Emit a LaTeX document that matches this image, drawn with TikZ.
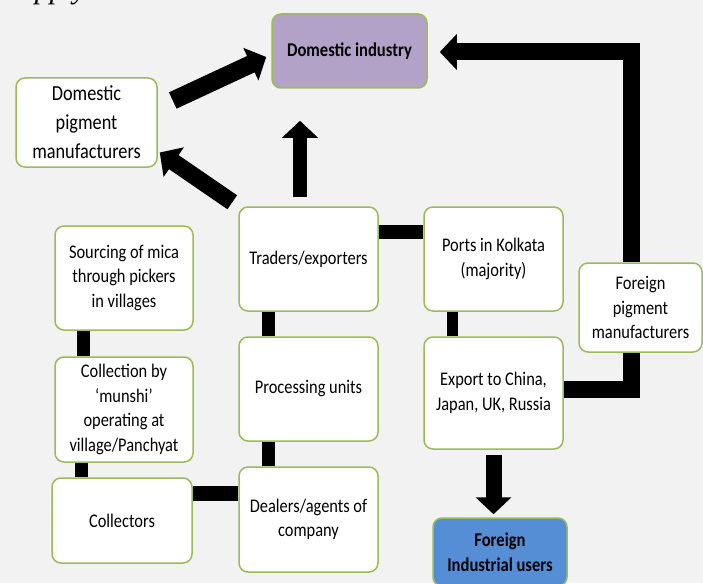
\documentclass[tikz,border=0pt]{standalone}
\usepackage{fontspec}
\setmainfont{Carlito}
\newfontfamily\boxfont[FakeStretch=0.85]{Carlito}
\newfontfamily\titlefont{Liberation Serif}
\usetikzlibrary{arrows.meta}
\definecolor{boxgreen}{RGB}{155,187,89}
\definecolor{indpurple}{RGB}{179,162,199}
\definecolor{userblue}{RGB}{85,142,213}
\tikzset{
  box/.style={draw=boxgreen, line width=1.5pt, rounded corners=9pt, fill=white,
    align=center, inner sep=2pt, font=\boxfont\fontsize{19.3}{24.5}\selectfont},
  link/.style={line width=13pt},
  flow/.style={line width=16pt, -{Triangle[width=35pt,length=17pt]}},
}
\begin{document}
\begin{tikzpicture}[x=1pt,y=-1pt]
        \useasboundingbox (0,0) rectangle (703,583);
        \fill[black!5] (0,0) rectangle (703,583);
        \node[anchor=base west,inner sep=0,font=\titlefont\itshape\fontsize{30}{36}\selectfont] (title) at (8,-1) {supply chain};

        % boxes
        \node[box,fill=indpurple,minimum width=155pt,minimum height=74pt,font=\boxfont\bfseries\fontsize{19.5}{24.5}\selectfont] (dind) at (349.5,51) {Domestic industry};
        \node[box,minimum width=141pt,minimum height=89pt,font=\boxfont\fontsize{21.5}{29}\selectfont] (dpig) at (86.5,122.5) {Domestic\\pigment\\manufacturers};
        \node[box,minimum width=138pt,minimum height=104pt] (sourcing) at (124,278) {Sourcing of mica\\through pickers\\in villages};
        \node[box,minimum width=138pt,minimum height=105pt] (collection) at (124,409.5) {Collection by\\‘munshi’\\operating at\\village/Panchyat};
        \node[box,minimum width=140pt,minimum height=85pt] (collectors) at (122,520.5) {Collectors};
        \node[box,minimum width=139pt,minimum height=104pt] (traders) at (308.5,259) {Traders/exporters};
        \node[box,minimum width=139pt,minimum height=104pt] (processing) at (308.5,389) {Processing units};
        \node[box,minimum width=139pt,minimum height=105pt] (dealers) at (308.5,519.5) {Dealers/agents of\\company};
        \node[box,minimum width=139pt,minimum height=104pt] (ports) at (493.5,259) {Ports in Kolkata\\(majority)};
        \node[box,minimum width=139pt,minimum height=112pt] (export) at (493.5,393) {Export to China,\\Japan, UK, Russia};
        \node[box,minimum width=123pt,minimum height=89pt] (fpig) at (640.5,307.5) {Foreign\\pigment\\manufacturers};
        \node[box,fill=userblue,minimum width=134pt,minimum height=68pt,font=\boxfont\bfseries\fontsize{19.5}{24.5}\selectfont] (fusers) at (500,552) {Foreign\\Industrial users};

        % links
        \draw[link] ([xshift=-41pt]sourcing.south) -- ([xshift=-41pt]collection.north);
        \draw[link] ([xshift=-43pt]collection.south) -- ([xshift=-41pt]collectors.north);
        \draw[link,line width=15pt] ([yshift=27pt]collectors.east) -- ([yshift=26pt]dealers.west);
        \draw[link] ([xshift=-40.5pt]dealers.north) -- ([xshift=-40.5pt]processing.south);
        \draw[link] ([xshift=-40.5pt]processing.north) -- ([xshift=-40.5pt]traders.south);
        \draw[link,line width=14pt] ([yshift=27pt]traders.east) -- ([yshift=27pt]ports.west);
        \draw[link,line width=11pt] ([xshift=-41pt]ports.south) -- ([xshift=-41pt]export.north);

        % flows
        \draw[flow,line width=14pt] ([xshift=-8.5pt,yshift=9pt]traders.north) -- ([xshift=-8.5pt,yshift=-32pt]traders.north |- dind.south);
        \draw[flow,line width=17pt] ([shift={(-6,-4)}]traders.north west) -- ([shift={(2,30)}]dpig.east);
        \draw[flow,line width=18pt] ([shift={(15,-22)}]dpig.east) -- ([shift={(-5,6)}]dind.west);
        \draw[line width=17pt] ([yshift=4pt]export.east) -| ([xshift=-9pt]fpig.south);
        \draw[flow,line width=17pt] ([xshift=-9pt]fpig.north) |- ([xshift=12pt,yshift=-1pt]dind.east);
        \draw[flow] ([yshift=-5pt]export.south) -- ([yshift=3pt]fusers.north -| export.south);
\end{tikzpicture}
\end{document}
